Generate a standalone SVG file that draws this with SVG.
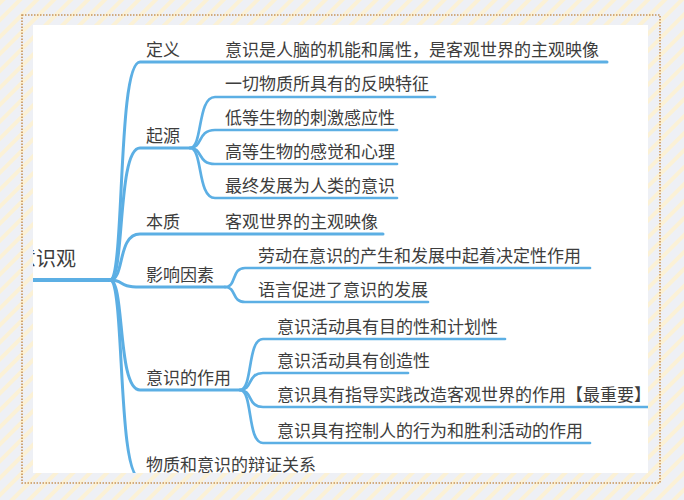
<svg xmlns="http://www.w3.org/2000/svg" width="684" height="500" viewBox="0 0 684 500">
<defs>
<pattern id="stripes" width="12" height="12" patternUnits="userSpaceOnUse" patternTransform="rotate(45)">
<rect width="12" height="12" fill="#eef0f5"/>
<rect width="4" height="12" fill="#fbf1d6"/>
</pattern>
<clipPath id="panel"><rect x="33" y="25" width="615" height="448"/></clipPath>
<style>
.t{font-family:"Noto Sans CJK SC","Noto Sans",sans-serif;font-size:17px;fill:#3d3d3d}
.root{font-size:20px}
.br{fill:none;stroke:#5cafe4;stroke-width:3;stroke-linecap:round}
.sb{fill:none;stroke:#5cafe4;stroke-width:2.7;stroke-linecap:round}
</style>
</defs>
<rect width="684" height="500" fill="url(#stripes)"/>
<rect x="22" y="15" width="638" height="468" fill="none" stroke="#c8945a" stroke-width="1.6" stroke-dasharray="1.5 1.5"/>
<rect x="33" y="25" width="615" height="448" fill="#ffffff"/>
<g clip-path="url(#panel)">
<g id="connectors">
<path class="br" style="stroke-width:4" d="M30,280 L110,280"/>
<path class="br" d="M110,280 C125,280 117,62 140,62 L607,62"/>
<path class="br" d="M110,280 C125,280 117,148 140,148 L190,148"/>
<path class="br" d="M110,280 C125,280 117,234 140,234 L383,234"/>
<path class="br" d="M110,280 C125,280 117,287 140,287 L225,287"/>
<path class="br" d="M110,280 C125,280 117,390 140,390 L240,390"/>
<path class="br" d="M110,280 C125,280 117,478 140,478 L330,478"/>
<path class="sb" d="M190,148 C203,148 197,97 215,97 L435,97"/>
<path class="sb" d="M190,148 C203,148 197,130 215,130 L397,130"/>
<path class="sb" d="M190,148 C203,148 197,164 215,164 L397,164"/>
<path class="sb" d="M190,148 C203,148 197,198 215,198 L397,198"/>
<path class="sb" d="M225,287 C237,287 231,268 245,268 L590,268"/>
<path class="sb" d="M225,287 C237,287 231,302 245,302 L428,302"/>
<path class="sb" d="M240,390 C253,390 247,339 263,339 L505,339"/>
<path class="sb" d="M240,390 C253,390 247,373 263,373 L408,373"/>
<path class="sb" d="M240,390 C253,390 247,407 263,407 L650,407"/>
<path class="sb" d="M240,390 C253,390 247,443 263,443 L590,443"/>
</g>
<g id="root"><text class="t root" x="16" y="266">意识观</text></g>
<g id="n-dingyi"><text class="t" x="146" y="56">定义</text></g>
<g id="n-dingyi-1"><text class="t" x="225" y="56">意识是人脑的机能和属性，是客观世界的主观映像</text></g>
<g id="n-qiyuan"><text class="t" x="146" y="142">起源</text></g>
<g id="n-qiyuan-1"><text class="t" x="225" y="90">一切物质所具有的反映特征</text></g>
<g id="n-qiyuan-2"><text class="t" x="225" y="124">低等生物的刺激感应性</text></g>
<g id="n-qiyuan-3"><text class="t" x="225" y="158">高等生物的感觉和心理</text></g>
<g id="n-qiyuan-4"><text class="t" x="225" y="192">最终发展为人类的意识</text></g>
<g id="n-benzhi"><text class="t" x="146" y="228">本质</text></g>
<g id="n-benzhi-1"><text class="t" x="225" y="228">客观世界的主观映像</text></g>
<g id="n-yingxiang"><text class="t" x="146" y="281">影响因素</text></g>
<g id="n-yingxiang-1"><text class="t" x="258" y="262">劳动在意识的产生和发展中起着决定性作用</text></g>
<g id="n-yingxiang-2"><text class="t" x="258" y="296">语言促进了意识的发展</text></g>
<g id="n-zuoyong"><text class="t" x="146" y="384">意识的作用</text></g>
<g id="n-zuoyong-1"><text class="t" x="277" y="333">意识活动具有目的性和计划性</text></g>
<g id="n-zuoyong-2"><text class="t" x="277" y="367">意识活动具有创造性</text></g>
<g id="n-zuoyong-3"><text class="t" x="277" y="401">意识具有指导实践改造客观世界的作用【最重要】</text></g>
<g id="n-zuoyong-4"><text class="t" x="277" y="437">意识具有控制人的行为和胜利活动的作用</text></g>
<g id="n-guanxi"><text class="t" x="146" y="471">物质和意识的辩证关系</text></g>
</g>
</svg>
